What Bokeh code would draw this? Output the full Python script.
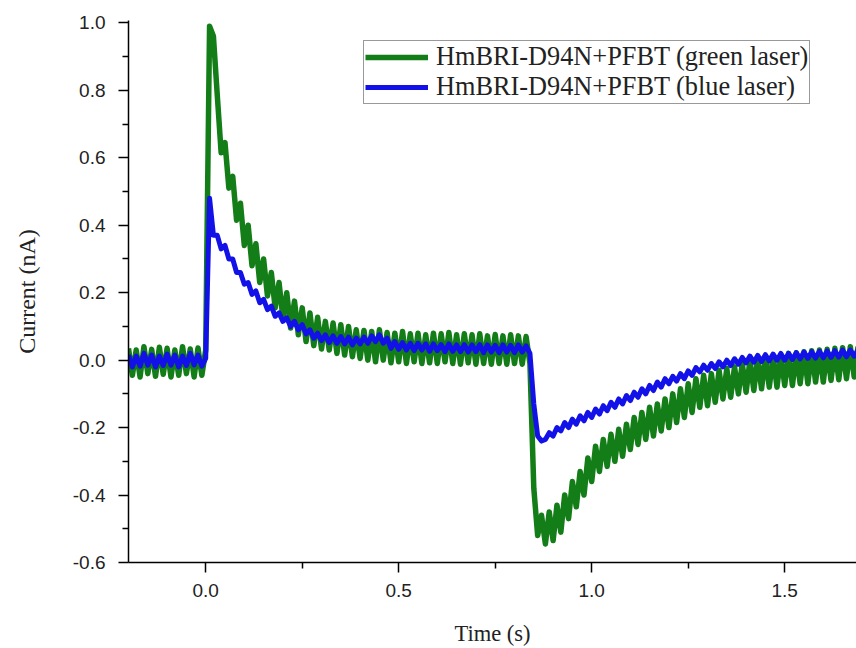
import numpy as np
from bokeh.plotting import figure
from bokeh.models import FixedTicker, PrintfTickFormatter, Legend, LegendItem, Range1d
from bokeh.embed import file_html
from bokeh.resources import INLINE

# ---- data ----
time_start = -0.20
time_step = 0.01

green_current = [
    0.035, -0.045, 0.03, -0.05, 0.04, -0.04, 0.032, -0.048, 0.038, -0.042,
    0.035, -0.05, 0.03, -0.045, 0.04, -0.04, 0.033, -0.05, 0.036, -0.045,
    0.03,
    0.99, 0.96, 0.785, 0.615, 0.645, 0.51, 0.545, 0.415, 0.465, 0.34,
    0.40, 0.28, 0.345, 0.23, 0.30, 0.19, 0.26, 0.155, 0.23, 0.125,
    0.20, 0.095, 0.175, 0.075, 0.155, 0.055, 0.14, 0.043, 0.127, 0.033,
    0.115, 0.03, 0.11, 0.02, 0.105, 0.015, 0.10, 0.01, 0.09, 0.005,
    0.088, 0.0, 0.085, -0.005, 0.09, 0.0, 0.082, -0.008, 0.08, -0.005,
    0.085, -0.01, 0.078, -0.005, 0.08, -0.01, 0.075, -0.008, 0.08, -0.01,
    0.078, -0.005, 0.082, -0.01, 0.075, -0.012, 0.078, -0.008, 0.075, -0.012,
    0.078, -0.01, 0.072, -0.012, 0.076, -0.01, 0.072, -0.012, 0.075, -0.01,
    0.072, -0.012, 0.07, -0.01,
    -0.38, -0.52, -0.46, -0.545, -0.45, -0.535, -0.43, -0.51, -0.40, -0.47,
    -0.36, -0.435, -0.33, -0.40, -0.29, -0.36, -0.255, -0.33, -0.235, -0.315,
    -0.22, -0.30, -0.205, -0.285, -0.19, -0.265, -0.17, -0.25, -0.155, -0.235,
    -0.14, -0.225, -0.13, -0.21, -0.115, -0.20, -0.10, -0.185, -0.085, -0.17,
    -0.07, -0.155, -0.055, -0.14, -0.045, -0.135, -0.04, -0.125, -0.03, -0.115,
    -0.025, -0.11, -0.02, -0.10, -0.01, -0.095, 0.0, -0.09, 0.005, -0.085,
    0.01, -0.08, 0.012, -0.08, 0.015, -0.075, 0.02, -0.075, 0.022, -0.07,
    0.025, -0.07, 0.028, -0.065, 0.03, -0.065, 0.032, -0.06, 0.035, -0.058,
    0.037, -0.055, 0.04, -0.05, 0.04,
]

blue_current = [
    0.015, -0.02, 0.012, -0.018, 0.02, -0.015, 0.015, -0.02, 0.012, -0.016,
    0.018, -0.015, 0.015, -0.02, 0.012, -0.016, 0.02, -0.014, 0.015, -0.018,
    0.005,
    0.48, 0.37, 0.37, 0.33, 0.34, 0.30, 0.30, 0.26, 0.26, 0.225,
    0.23, 0.195, 0.205, 0.17, 0.18, 0.15, 0.16, 0.13, 0.14, 0.115,
    0.125, 0.10, 0.115, 0.09, 0.105, 0.078, 0.09, 0.065, 0.08, 0.058,
    0.075, 0.052, 0.072, 0.05, 0.07, 0.048, 0.068, 0.045, 0.065, 0.048,
    0.068, 0.05, 0.072, 0.055, 0.075, 0.05, 0.065, 0.035, 0.055, 0.032,
    0.052, 0.03, 0.05, 0.028, 0.05, 0.03, 0.048, 0.026, 0.048, 0.028,
    0.046, 0.025, 0.048, 0.026, 0.045, 0.025, 0.046, 0.024, 0.045, 0.025,
    0.046, 0.022, 0.045, 0.024, 0.044, 0.022, 0.045, 0.024, 0.044, 0.022,
    0.045, 0.024, 0.042, 0.02,
    -0.13, -0.225, -0.24, -0.235, -0.215, -0.225, -0.2, -0.21, -0.185, -0.2,
    -0.175, -0.19, -0.165, -0.18, -0.155, -0.17, -0.145, -0.16, -0.135, -0.15,
    -0.125, -0.14, -0.115, -0.13, -0.105, -0.12, -0.095, -0.11, -0.085, -0.1,
    -0.075, -0.09, -0.065, -0.08, -0.055, -0.07, -0.048, -0.062, -0.04, -0.055,
    -0.032, -0.045, -0.022, -0.035, -0.015, -0.03, -0.01, -0.025, -0.005, -0.02,
    0.0, -0.016, 0.004, -0.012, 0.008, -0.008, 0.012, -0.006, 0.014, -0.004,
    0.016, -0.002, 0.018, 0.0, 0.02, 0.0, 0.02, 0.002, 0.022, 0.004,
    0.024, 0.005, 0.025, 0.006, 0.026, 0.007, 0.027, 0.008, 0.028, 0.009,
    0.03, 0.01, 0.03, 0.012, 0.03,
]

time_s = [round(time_start + time_step * i, 2) for i in range(len(green_current))]

x_major_ticks = [0.0, 0.5, 1.0, 1.5]
x_minor_ticks = [0.25, 0.75, 1.25]
y_major_ticks = [-0.6, -0.4, -0.2, 0.0, 0.2, 0.4, 0.6, 0.8, 1.0]
y_minor_ticks = [-0.5, -0.3, -0.1, 0.1, 0.3, 0.5, 0.7, 0.9]

green_label = "HmBRI-D94N+PFBT (green laser)"
blue_label = "HmBRI-D94N+PFBT (blue laser)"
x_title = "Time (s)"
y_title = "Current (nA)"

GREEN = "#137d18"
BLUE = "#1212e8"

# ---- figure ----
p = figure(width=856, height=648, output_backend="svg", toolbar_location=None,
           x_range=Range1d(-0.2, 1.686), y_range=Range1d(-0.6, 1.007),
           min_border_left=128, min_border_right=0, min_border_top=20, min_border_bottom=86)
p.background_fill_color = "white"
p.border_fill_color = "white"
p.outline_line_color = None
p.grid.visible = False

g = p.line(time_s, green_current, line_color=GREEN, line_width=5.5, line_join="round")
b = p.line(time_s, blue_current, line_color=BLUE, line_width=5, line_join="round")

for ax in (p.xaxis[0], p.yaxis[0]):
    ax.axis_line_color = "black"
    ax.axis_line_width = 1.5
    ax.major_tick_line_color = "black"
    ax.minor_tick_line_color = "black"
    ax.major_tick_line_width = 1.5
    ax.minor_tick_line_width = 1.5
    ax.major_tick_in = 0
    ax.major_tick_out = 10
    ax.minor_tick_in = 0
    ax.minor_tick_out = 6
    ax.major_label_text_font = "Liberation Sans"
    ax.major_label_text_font_size = "19px"
    ax.major_label_text_color = "#222222"
    ax.axis_label_text_font = "Liberation Serif"
    ax.axis_label_text_font_style = "normal"
    ax.axis_label_text_color = "#222222"
    ax.formatter = PrintfTickFormatter(format="%.1f")

p.xaxis[0].axis_label_text_font_size = "22.5px"
p.yaxis[0].axis_label_text_font_size = "24px"
p.xaxis[0].ticker = FixedTicker(ticks=x_major_ticks, minor_ticks=x_minor_ticks)
p.yaxis[0].ticker = FixedTicker(ticks=y_major_ticks, minor_ticks=y_minor_ticks)
p.xaxis[0].axis_label = x_title
p.yaxis[0].axis_label = y_title
p.xaxis[0].major_label_standoff = 11
p.yaxis[0].major_label_standoff = 13
p.xaxis[0].axis_label_standoff = 21
p.yaxis[0].axis_label_standoff = 30

legend = Legend(items=[LegendItem(label=green_label, renderers=[g]),
                       LegendItem(label=blue_label, renderers=[b])],
                location=(235, 458))
legend.margin = 0
legend.padding = 1
legend.spacing = 0
legend.label_height = 30
legend.glyph_height = 30
legend.glyph_width = 63
legend.label_standoff = 8
legend.label_text_font = "Liberation Serif"
legend.label_text_font_size = "26.3px"
legend.label_text_color = "#222222"
legend.border_line_color = "#333333"
legend.border_line_width = 1
legend.background_fill_color = "white"
legend.background_fill_alpha = 1.0
p.add_layout(legend)

open("out.html", "w").write(file_html(p, INLINE))
